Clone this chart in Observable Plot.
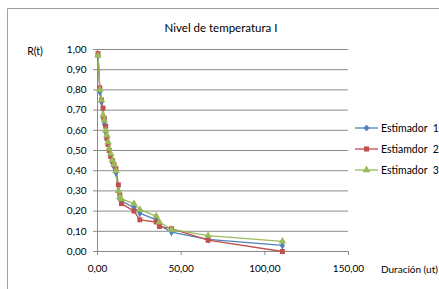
<!DOCTYPE html>
<html>
<head>
<meta charset="utf-8">
<script src="https://cdn.jsdelivr.net/npm/d3@7"></script>
<script src="https://cdn.jsdelivr.net/npm/@observablehq/plot@0.6"></script>
<style>
html,body{margin:0;padding:0;overflow:hidden;background:#fff;}
</style>
</head>
<body>
<div id="chart"></div>
<script>
const title = "Nivel de temperatura I";
const yLabel = "R(t)";
const xLabel = "Duración (ut)";
const seriesNames = ["Estimador  1", "Estiamdor  2", "Estimador  3"];
const seriesColors = ["#4F81BD", "#C0504D", "#9BBB59"];
const seriesSymbols = ["diamond", "square", "triangle"];
const xTicks = [0, 50, 100, 150];
const yTicks = [0, 0.1, 0.2, 0.3, 0.4, 0.5, 0.6, 0.7, 0.8, 0.9, 1.0];

const times = [0.3, 1.4, 2.4, 3.3, 4.1, 4.9, 5.6, 6.3, 7.0, 7.9, 8.9, 9.9, 11.0, 12.5, 13.3, 14.3, 21.8, 25.3, 35.1, 37.0, 44.2, 66.1, 110.5];
const est1 = [0.97, 0.79, 0.74, 0.66, 0.63, 0.59, 0.56, 0.53, 0.50, 0.47, 0.44, 0.42, 0.39, 0.30, 0.26, 0.25, 0.217, 0.19, 0.157, 0.13, 0.096, 0.06, 0.03];
const est2 = [0.98, 0.81, 0.75, 0.71, 0.66, 0.62, 0.56, 0.53, 0.50, 0.47, 0.45, 0.43, 0.41, 0.33, 0.28, 0.237, 0.20, 0.157, 0.146, 0.124, 0.113, 0.056, 0.0];
const est3 = [0.97, 0.80, 0.75, 0.675, 0.65, 0.60, 0.576, 0.542, 0.51, 0.485, 0.452, 0.43, 0.40, 0.30, 0.27, 0.26, 0.237, 0.207, 0.175, 0.146, 0.109, 0.079, 0.05];

const seriesValues = [est1, est2, est3];
const data = [];
seriesValues.forEach((vals, i) => vals.forEach((v, j) => data.push({t: times[j], r: v, s: seriesNames[i]})));

const fmt = d => d.toFixed(2).replace(".", ",");
const font = "Lato, 'Open Sans', sans-serif";

const marks = [
  Plot.gridY(yTicks, {stroke: "#8a8a8a", strokeOpacity: 1}),
  Plot.ruleX([0], {stroke: "#8a8a8a"}),
  Plot.axisY({ticks: yTicks, tickSize: 4, tickPadding: 7, tickFormat: fmt, label: null, stroke: "#8a8a8a", fill: "#000"}),
  Plot.axisX({ticks: xTicks, tickSize: 4, tickPadding: 9, tickFormat: fmt, label: null, stroke: "#8a8a8a", fill: "#000"}),
  Plot.ruleY([0], {stroke: "#8a8a8a"})
];
seriesNames.forEach((name, i) => {
  const sub = data.filter(d => d.s === name);
  marks.push(Plot.line(sub, {x: "t", y: "r", stroke: seriesColors[i], strokeWidth: 1.3}));
});
seriesNames.forEach((name, i) => {
  const sub = data.filter(d => d.s === name);
  marks.push(Plot.dot(sub, {x: "t", y: "r", symbol: seriesSymbols[i], fill: seriesColors[i], stroke: "none", r: seriesSymbols[i] === "diamond" ? 2.6 : 2.8}));
});

const chart = Plot.plot({
  width: 439, height: 289,
  marginLeft: 97, marginRight: 91, marginTop: 49, marginBottom: 38,
  style: {fontFamily: font, fontSize: "10px", background: "#fff", color: "#000", overflow: "hidden"},
  x: {domain: [0, 150]},
  y: {domain: [0, 1]},
  marks
});
document.getElementById("chart").appendChild(chart);

const svg = d3.select(chart);
// chart frame
svg.append("path").attr("d", "M7.5,289V8.5H439").attr("fill", "none").attr("stroke", "#a0a0a0");
svg.append("text").attr("x", 221).attr("y", 28).attr("text-anchor", "middle").attr("dy", "0.35em")
  .attr("font-size", 11.5).attr("font-family", font).text(title);
svg.append("text").attr("x", 35).attr("y", 51).attr("text-anchor", "middle").attr("dy", "0.35em")
  .attr("font-size", 10.5).attr("font-family", font).text(yLabel);
svg.append("text").attr("x", 381).attr("y", 269).attr("text-anchor", "start").attr("dy", "0.35em")
  .attr("font-size", 10).attr("font-family", font).text(xLabel);

const legendY = [128, 149, 170];
const sym = d3.scaleOrdinal(seriesSymbols, [d3.symbolDiamond2, d3.symbolSquare, d3.symbolTriangle]);
seriesNames.forEach((name, i) => {
  const g = svg.append("g");
  g.append("line").attr("x1", 355).attr("x2", 378).attr("y1", legendY[i]).attr("y2", legendY[i])
    .attr("stroke", seriesColors[i]).attr("stroke-width", 1.3);
  g.append("path").attr("transform", `translate(366.5,${legendY[i]})`)
    .attr("d", d3.symbol(sym(seriesSymbols[i]), 26)()).attr("fill", seriesColors[i]);
  g.append("text").attr("x", 381).attr("y", legendY[i]).attr("dy", "0.35em").attr("text-anchor", "start")
    .attr("font-size", 10.5).attr("font-family", font).style("white-space", "pre").text(name);
});
</script>
</body>
</html>
